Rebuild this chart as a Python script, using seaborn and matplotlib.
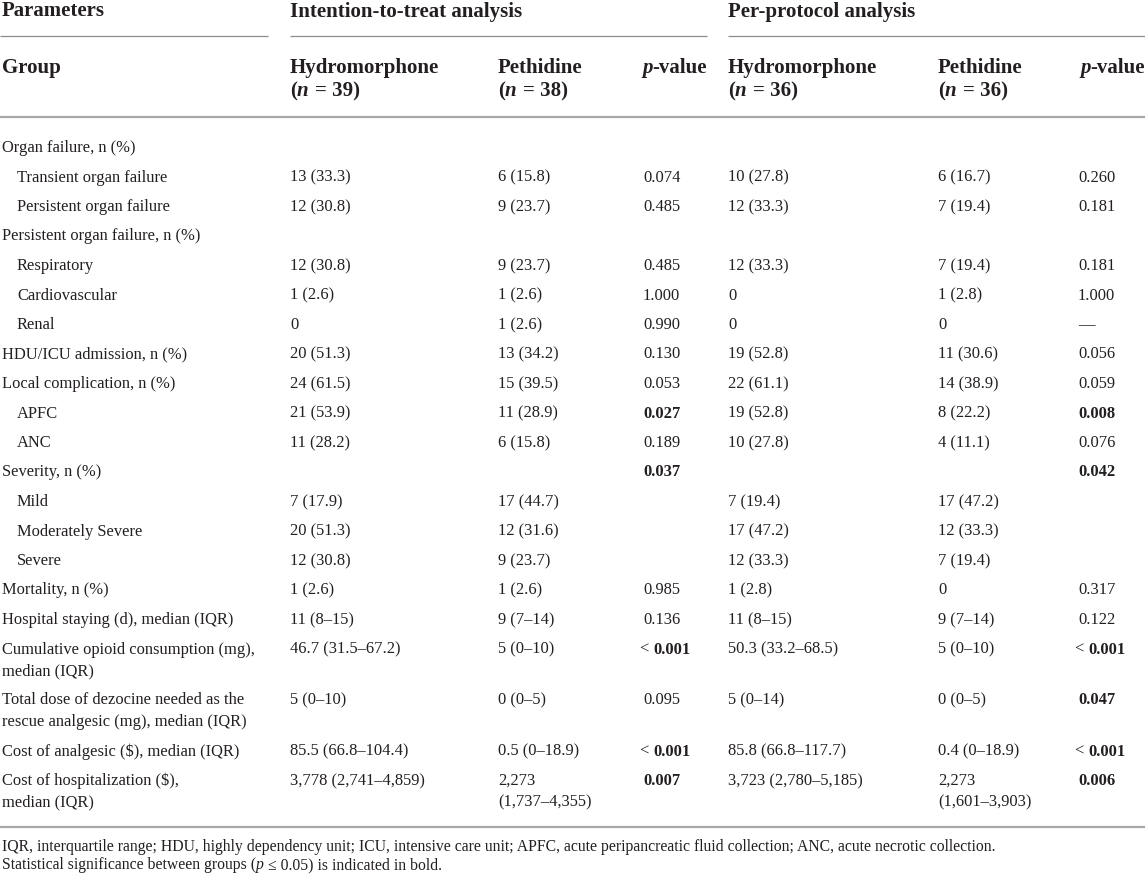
import matplotlib
matplotlib.use("Agg")
import matplotlib.pyplot as plt
import seaborn as sns

sns.set_theme(style="white")
plt.rcParams['font.family'] = ['Liberation Serif', 'DejaVu Serif']

# ---------------- data ----------------
parameters = [
    "Organ failure, n (%)",
    "Transient organ failure",
    "Persistent organ failure",
    "Persistent organ failure, n (%)",
    "Respiratory",
    "Cardiovascular",
    "Renal",
    "HDU/ICU admission, n (%)",
    "Local complication, n (%)",
    "APFC",
    "ANC",
    "Severity, n (%)",
    "Mild",
    "Moderately Severe",
    "Severe",
    "Mortality, n (%)",
    "Hospital staying (d), median (IQR)",
    "Cumulative opioid consumption (mg),\nmedian (IQR)",
    "Total dose of dezocine needed as the\nrescue analgesic (mg), median (IQR)",
    "Cost of analgesic ($), median (IQR)",
    "Cost of hospitalization ($),\nmedian (IQR)",
]
sub_item = [0, 1, 1, 0, 1, 1, 1, 0, 0, 1, 1, 0, 1, 1, 1, 0, 0, 0, 0, 0, 0]

itt_hydromorphone = ["", "13 (33.3)", "12 (30.8)", "", "12 (30.8)", "1 (2.6)", "0",
                     "20 (51.3)", "24 (61.5)", "21 (53.9)", "11 (28.2)", "",
                     "7 (17.9)", "20 (51.3)", "12 (30.8)", "1 (2.6)", "11 (8–15)",
                     "46.7 (31.5–67.2)", "5 (0–10)", "85.5 (66.8–104.4)",
                     "3,778 (2,741–4,859)"]
itt_pethidine = ["", "6 (15.8)", "9 (23.7)", "", "9 (23.7)", "1 (2.6)", "1 (2.6)",
                 "13 (34.2)", "15 (39.5)", "11 (28.9)", "6 (15.8)", "",
                 "17 (44.7)", "12 (31.6)", "9 (23.7)", "1 (2.6)", "9 (7–14)",
                 "5 (0–10)", "0 (0–5)", "0.5 (0–18.9)", "2,273\n(1,737–4,355)"]
itt_p = ["", "0.074", "0.485", "", "0.485", "1.000", "0.990", "0.130", "0.053",
         "0.027", "0.189", "0.037", "", "", "", "0.985", "0.136", "< 0.001",
         "0.095", "< 0.001", "0.007"]
pp_hydromorphone = ["", "10 (27.8)", "12 (33.3)", "", "12 (33.3)", "0", "0",
                    "19 (52.8)", "22 (61.1)", "19 (52.8)", "10 (27.8)", "",
                    "7 (19.4)", "17 (47.2)", "12 (33.3)", "1 (2.8)", "11 (8–15)",
                    "50.3 (33.2–68.5)", "5 (0–14)", "85.8 (66.8–117.7)",
                    "3,723 (2,780–5,185)"]
pp_pethidine = ["", "6 (16.7)", "7 (19.4)", "", "7 (19.4)", "1 (2.8)", "0",
                "11 (30.6)", "14 (38.9)", "8 (22.2)", "4 (11.1)", "",
                "17 (47.2)", "12 (33.3)", "7 (19.4)", "0", "9 (7–14)",
                "5 (0–10)", "0 (0–5)", "0.4 (0–18.9)", "2,273\n(1,601–3,903)"]
pp_p = ["", "0.260", "0.181", "", "0.181", "1.000", "—", "0.056", "0.059",
        "0.008", "0.076", "0.042", "", "", "", "0.317", "0.122", "< 0.001",
        "0.047", "< 0.001", "0.006"]

analysis_titles = ["Intention-to-treat analysis", "Per-protocol analysis"]
group_names = ["Hydromorphone", "Pethidine"]
group_n = [["39", "38"], ["36", "36"]]
footnotes = [
    "IQR, interquartile range; HDU, highly dependency unit; ICU, intensive care unit; "
    "APFC, acute peripancreatic fluid collection; ANC, acute necrotic collection.",
    "Statistical significance between groups (p ≤ 0.05) is indicated in bold.",
]
alpha = 0.05

# ---------------- layout ----------------
W, H = 1145, 874
fig = plt.figure(figsize=(W / 100, H / 100), dpi=100)
ax = fig.add_axes([0, 0, 1, 1])
ax.set_xlim(0, W)
ax.set_ylim(H, 0)
ax.axis("off")
renderer = fig.canvas.get_renderer()

BODY = 11.9
HEAD = 15.0
FOOT = 11.3
TXT = "#231f20"
col_x = [290, 498, 643, 728, 938, 1078]
indent_x = [2, 17]


def runs(x, y, parts, size, ha="left"):
    """parts: list of (text, weight, style, gap_before_in_em)"""
    objs = []
    widths = []
    for s, w, st, g in parts:
        t = ax.text(0, y, s, fontsize=size, fontweight=w, fontstyle=st,
                    color=TXT, va="baseline", ha="left", parse_math=False)
        objs.append((t, g))
        widths.append(t.get_window_extent(renderer).width)
    px = size * 100 / 72
    total = sum(widths) + sum(g * px for _, g in objs)
    cur = x - total if ha == "right" else x
    for (t, g), wd in zip(objs, widths):
        cur += g * px
        t.set_x(cur)
        cur += wd


def is_sig(p):
    if p.startswith("<"):
        return True
    try:
        return float(p) <= alpha
    except ValueError:
        return False


# header row 1
runs(2, 16.5, [("Parameters", "bold", "normal", 0)], HEAD)
runs(col_x[0], 16.5, [(analysis_titles[0], "bold", "normal", 0)], HEAD)
runs(col_x[3], 16.5, [(analysis_titles[1], "bold", "normal", 0)], HEAD)
ax.hlines(36, 0, 268, color="#8c8c8c", lw=0.9)
ax.hlines(36, 290, 707, color="#8c8c8c", lw=0.9)
ax.hlines(36, 728, W, color="#8c8c8c", lw=0.9)

# header row 2
runs(2, 73, [("Group", "bold", "normal", 0)], HEAD)
for a, base in enumerate([0, 3]):
    for g in range(2):
        x = col_x[base + g]
        runs(x, 73, [(group_names[g], "bold", "normal", 0)], HEAD)
        runs(x, 96, [("(", "bold", "normal", 0), ("n", "bold", "italic", 0),
                     ("= " + group_n[a][g] + ")", "bold", "normal", 0.3)], HEAD)
    runs(707 if a == 0 else W, 73, [("p", "bold", "italic", 0),
                                    ("-value", "bold", "normal", 0)], HEAD, ha="right")
ax.hlines(117, 0, W, color="#a8a8a8", lw=1.6)

# body
columns = [itt_hydromorphone, itt_pethidine, itt_p, pp_hydromorphone, pp_pethidine, pp_p]
y = 152
LINE = 21.5
for i, label in enumerate(parameters):
    lines = label.split("\n")
    for k, ln in enumerate(lines):
        runs(indent_x[sub_item[i]], y + k * LINE, [(ln, "normal", "normal", 0)], BODY)
    nlines = len(lines)
    for c, col in enumerate(columns):
        val = col[i]
        if not val:
            continue
        if c in (2, 5):
            if val.startswith("<"):
                runs(col_x[c] - 4, y, [("<", "normal", "normal", 0),
                                       (val[1:].strip(), "bold", "normal", 0.3)], BODY)
            else:
                runs(col_x[c], y, [(val, "bold" if is_sig(val) else "normal", "normal", 0)], BODY)
        else:
            vl = val.split("\n")
            nlines = max(nlines, len(vl))
            for k, ln in enumerate(vl):
                runs(col_x[c], y + k * LINE, [(ln, "normal", "normal", 0)], BODY)
    y += 29.5 + LINE * (nlines - 1)

ax.hlines(827, 0, W, color="#a8a8a8", lw=1.6)

# footnotes
runs(2, 851, [(footnotes[0], "normal", "normal", 0)], FOOT)
pre, post = footnotes[1].split("p ≤")
runs(2, 869, [(pre.rstrip(), "normal", "normal", 0), ("p", "normal", "italic", 0),
              ("≤" + post, "normal", "normal", 0.28)], FOOT)

fig.savefig("out.png", dpi=100)
